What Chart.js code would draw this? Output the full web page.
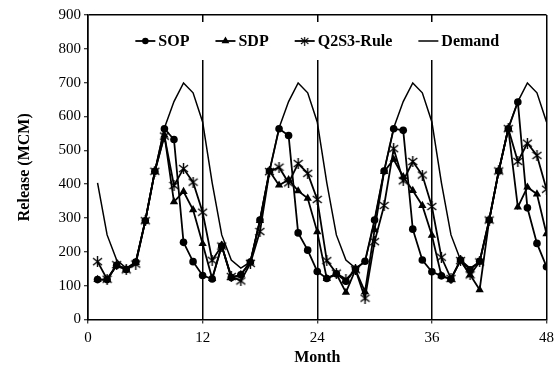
<!DOCTYPE html>
<html>
<head>
<meta charset="utf-8">
<script src="https://cdn.jsdelivr.net/npm/chart.js@4.4.1/dist/chart.umd.min.js"></script>
<style>
html,body{margin:0;padding:0;background:#fff;}
#wrap{width:560px;height:372px;}
</style>
</head>
<body>
<div id="wrap"><canvas id="c" width="560" height="372"></canvas></div>
<script>
const months = Array.from({length: 48}, (_, i) => i + 1);
const xTicks = [0, 12, 24, 36, 48];
const yTicks = [0, 100, 200, 300, 400, 500, 600, 700, 800, 900];
const seriesNames = ['SOP', 'SDP', 'Q2S3-Rule', 'Demand'];

const sop = [118,118,160,148,170,292,438,564,532,228,171,130,
             120,217,124,132,170,294,439,564,544,256,205,142,
             121,135,113,149,172,294,439,564,559,267,176,141,
             129,119,176,147,172,294,439,564,643,330,225,156];
const sdp = [118,118,160,148,168,292,438,545,348,378,324,224,
             121,219,124,133,170,292,439,397,413,380,358,259,
             121,135,80,147,82,265,437,473,422,381,337,249,
             129,119,176,132,88,294,439,564,332,391,371,253];
const q2s3 = [171,119,162,147,164,292,438,542,396,446,406,317,
              175,217,127,114,166,260,437,450,404,461,432,355,
              174,137,118,147,63,230,337,505,410,467,427,334,
              184,121,174,132,170,294,439,564,467,521,485,385];
const demand = [404,250,176,152,170,292,438,566,644,699,670,584,
                404,250,176,152,170,292,438,566,644,699,670,584,
                404,250,176,152,170,292,438,566,644,699,670,584,
                404,250,176,152,170,292,438,566,644,699,670,584];

function starCanvas(size) {
  const c = document.createElement('canvas');
  c.width = size; c.height = size;
  const g = c.getContext('2d');
  g.strokeStyle = '#000';
  g.lineWidth = 1.4;
  const m = 1, e = size - 1, h = size / 2;
  g.beginPath();
  g.moveTo(m, m + 1); g.lineTo(e, e - 1);
  g.moveTo(e, m + 1); g.lineTo(m, e - 1);
  g.moveTo(h, 0); g.lineTo(h, size);
  g.stroke();
  return c;
}
const star = starCanvas(11);

const pts = arr => months.map((m, i) => ({x: m, y: arr[i]}));

const FONT = '"Liberation Serif", "Times New Roman", serif';

const insideLegend = {
  id: 'insideLegend',
  afterDraw(chart) {
    const ctx = chart.ctx, area = chart.chartArea;
    ctx.save();
    ctx.font = 'bold 16px ' + FONT;
    const sample = 20, gapText = 3, gapItem = 26;
    const items = chart.data.datasets.map(ds => ({ds, w: ctx.measureText(ds.label).width}));
    const total = items.reduce((s, it) => s + sample + gapText + it.w, 0) + gapItem * (items.length - 1);
    let x = (area.left + area.right) / 2 - total / 2;
    const y = area.top + 26;
    ctx.fillStyle = '#fff';
    ctx.fillRect(x - 6, y - 19, total + 12, 38);
    items.forEach(it => {
      const ds = it.ds;
      ctx.strokeStyle = '#000';
      ctx.lineWidth = ds.borderWidth;
      ctx.beginPath();
      ctx.moveTo(x, y); ctx.lineTo(x + sample, y);
      ctx.stroke();
      const cx = x + sample / 2;
      ctx.fillStyle = '#000';
      if (ds.pointStyle === 'circle') {
        ctx.beginPath(); ctx.arc(cx, y, 3.2, 0, Math.PI * 2); ctx.fill();
      } else if (ds.pointStyle === 'triangle') {
        const r = 4.5;
        ctx.beginPath();
        ctx.moveTo(cx, y - r);
        ctx.lineTo(cx + r * 0.87, y + r * 0.5);
        ctx.lineTo(cx - r * 0.87, y + r * 0.5);
        ctx.closePath(); ctx.fill();
      } else if (ds.pointStyle && ds.pointStyle.getContext) {
        ctx.drawImage(ds.pointStyle, cx - 4.5, y - 4.5, 9, 9);
      }
      ctx.fillStyle = '#000';
      ctx.textBaseline = 'middle';
      ctx.textAlign = 'left';
      ctx.fillText(ds.label, x + sample + gapText, y + 1);
      x += sample + gapText + it.w + gapItem;
    });
    ctx.restore();
  }
};

new Chart(document.getElementById('c'), {
  type: 'line',
  data: {
    datasets: [
      {label: seriesNames[0], data: pts(sop), borderColor: '#000', backgroundColor: '#000',
       borderWidth: 1.8, pointStyle: 'circle', pointRadius: 3.8, pointBorderWidth: 0, tension: 0},
      {label: seriesNames[1], data: pts(sdp), borderColor: '#000', backgroundColor: '#000',
       borderWidth: 1.8, pointStyle: 'triangle', pointRadius: 4.8, pointBorderWidth: 0, tension: 0},
      {label: seriesNames[2], data: pts(q2s3), borderColor: '#000', backgroundColor: '#000',
       borderWidth: 1.8, pointStyle: star, pointRadius: 5, tension: 0},
      {label: seriesNames[3], data: pts(demand), borderColor: '#000', backgroundColor: '#000',
       borderWidth: 1.5, pointRadius: 0, pointStyle: false, tension: 0}
    ]
  },
  options: {
    responsive: false,
    animation: false,
    layout: {padding: {left: 0, right: 12, top: 15, bottom: 0}},
    plugins: {legend: {display: false}, tooltip: {enabled: false}},
    scales: {
      x: {
        type: 'linear', min: 0, max: 48,
        afterBuildTicks: s => { s.ticks = xTicks.map(v => ({value: v})); },
        afterFit: s => { s.height = 52.5; },
        ticks: {color: '#000', font: {family: FONT, size: 15}, padding: 6, maxRotation: 0},
        grid: {color: '#000', lineWidth: 1.5, tickLength: 4, tickColor: '#000', tickWidth: 1},
        border: {color: '#000', width: 1.5},
        title: {display: true, text: 'Month', color: '#000', font: {family: FONT, size: 16, weight: 'bold'},
                padding: {top: 0, bottom: 5}}
      },
      y: {
        min: 0, max: 900,
        afterBuildTicks: s => { s.ticks = yTicks.map(v => ({value: v})); },
        afterFit: s => { s.width = 88; },
        ticks: {color: '#000', font: {family: FONT, size: 15}, padding: 3},
        grid: {color: c => (c.tick && c.tick.value === 900) ? '#000' : 'rgba(0,0,0,0)',
               lineWidth: 1.5, tickLength: 4, tickColor: '#000', tickWidth: 1},
        border: {color: '#000', width: 1.5},
        title: {display: true, text: 'Release (MCM)', color: '#000', font: {family: FONT, size: 16, weight: 'bold'},
                padding: {top: 15, bottom: 0}}
      }
    }
  },
  plugins: [insideLegend]
});
</script>
</body>
</html>
